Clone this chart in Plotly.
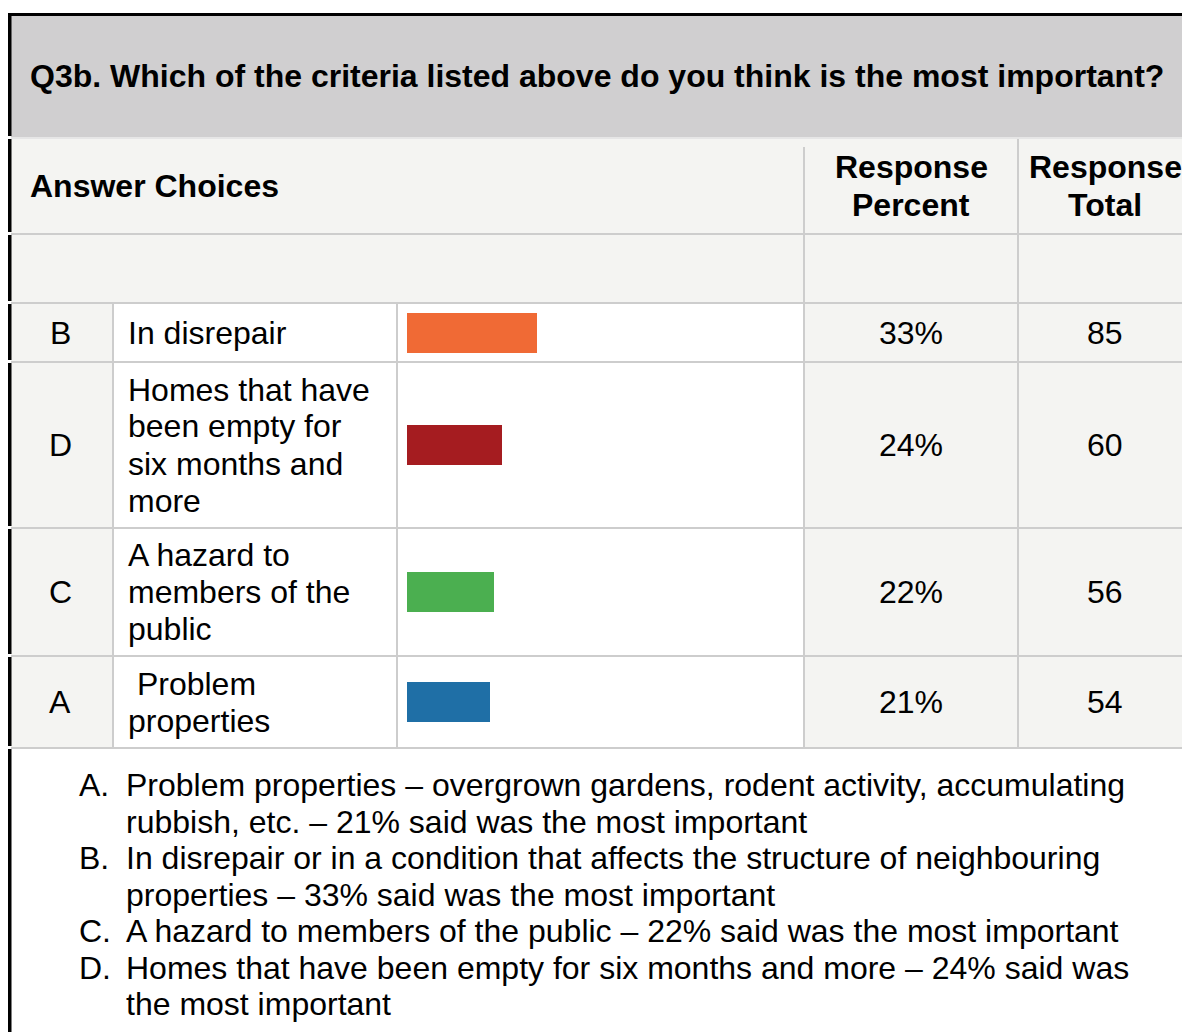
import plotly.graph_objects as go

# ---------------- data ----------------
title_text = "Q3b. Which of the criteria listed above do you think is the most important?"
header_choices = "Answer Choices"
header_percent = ["Response", "Percent"]
header_total = ["Response", "Total"]

letters = ["B", "D", "C", "A"]
choice_lines = [
    ["In disrepair"],
    ["Homes that have", "been empty for", "six months and", "more"],
    ["A hazard to", "members of the", "public"],
    ["\u00a0Problem", "properties"],
]
percents = [33, 24, 22, 21]
totals = [85, 60, 56, 54]
bar_colors = ["#F06A35", "#A51C20", "#4BAF50", "#1F6FA6"]

note_markers = ["A.", "", "B.", "", "C.", "D.", ""]
note_lines = [
    "Problem properties \u2013 overgrown gardens, rodent activity, accumulating",
    "rubbish, etc. \u2013 21% said was the most important",
    "In disrepair or in a condition that affects the structure of neighbouring",
    "properties \u2013 33% said was the most important",
    "A hazard to members of the public \u2013 22% said was the most important",
    "Homes that have been empty for six months and more \u2013 24% said was",
    "the most important",
]

# ---------------- layout geometry (pixels) ----------------
W, H = 1182, 1032
FONT = "Liberation Sans, Arial, Helvetica, sans-serif"
FS = 32
LINE = 37
GRID = "#cdcdcd"
LIGHT = "#f4f4f2"
TITLE_BG = "#d0cfd0"
PAD = 3  # annotation inner padding compensation

title_band = (16, 137)
header_band = (139, 233)
empty_band = (235, 302)
row_bands = [(304, 361), (363, 527), (529, 655), (657, 747)]

col_letter = (11, 113)
col_text = (113, 397)
col_bar = (397, 804)
col_pct = (804, 1018)
col_tot = (1018, 1192)

bar_x0 = 407
bar_px_per_100 = 394
bar_height = 40


def px(x):
    return x / W


def py(y):
    return 1 - y / H


shapes = []


def rect(x0, y0, x1, y1, color, layer="below"):
    shapes.append(dict(type="rect", xref="paper", yref="paper",
                       x0=px(x0), x1=px(x1), y0=py(y0), y1=py(y1),
                       fillcolor=color, line=dict(width=0), layer=layer))


def hline(y, x0, x1, color=GRID, w=2):
    shapes.append(dict(type="line", xref="paper", yref="paper",
                       x0=px(x0), x1=px(x1), y0=py(y), y1=py(y),
                       line=dict(color=color, width=w), layer="above"))


def vline(x, y0, y1, color=GRID, w=2):
    shapes.append(dict(type="line", xref="paper", yref="paper",
                       x0=px(x), x1=px(x), y0=py(y0), y1=py(y1),
                       line=dict(color=color, width=w), layer="above"))


annotations = []


def text(x, y, s, anchor="left", bold=False, size=FS):
    if anchor == "left":
        x = x - PAD
    annotations.append(dict(xref="paper", yref="paper", x=px(x), y=py(y),
                            text=f"<b>{s}</b>" if bold else s,
                            showarrow=False, xanchor=anchor, yanchor="middle",
                            font=dict(family=FONT, size=size, color="#000000")))


# backgrounds
rect(11, title_band[0], W + 10, title_band[1], TITLE_BG)
rect(11, header_band[0], W + 10, header_band[1], LIGHT)
rect(11, empty_band[0], W + 10, empty_band[1], LIGHT)
for (y0, y1) in row_bands:
    rect(col_letter[0], y0, col_letter[1], y1, LIGHT)
    rect(col_pct[0], y0, col_tot[1], y1, LIGHT)

# grid lines
hline(138, 11, W + 10, color="#e6e6e6")
hline(234, 11, W + 10)
hline(303, 11, W + 10)
for (y0, y1) in row_bands:
    hline(y1 + 1, 11, W + 10)
vline(col_text[0], row_bands[0][0], row_bands[-1][1])
vline(col_bar[0], row_bands[0][0], row_bands[-1][1])
vline(col_pct[0], header_band[0] + 8, row_bands[-1][1])
vline(col_tot[0], header_band[0], row_bands[-1][1])

# outer black border (top + left segments)
rect(8, 13, W + 10, 16, "#000000", layer="above")
left_segments = [(13, 136), (139, 232), (235, 301), (304, 360), (363, 526),
                 (529, 654), (657, 746), (749, H + 5)]
for (y0, y1) in left_segments:
    rect(8, y0, 11.5, y1, "#000000", layer="above")

# title + headers
text(31, (title_band[0] + title_band[1]) / 2 - 1, title_text, bold=True)
hc = (header_band[0] + header_band[1]) / 2
text(31, hc, header_choices, bold=True)
for i, s in enumerate(header_percent):
    text((col_pct[0] + col_pct[1]) / 2, hc + (i - 0.5) * LINE, s, anchor="center", bold=True)
for i, s in enumerate(header_total):
    text(1105, hc + (i - 0.5) * LINE, s, anchor="center", bold=True)

# rows
row_centers = []
for r, (y0, y1) in enumerate(row_bands):
    c = (y0 + y1) / 2
    row_centers.append(c)
    text(60, c, letters[r], anchor="center")
    n = len(choice_lines[r])
    for i, s in enumerate(choice_lines[r]):
        text(129, c + (i - (n - 1) / 2) * LINE, s)
    text((col_pct[0] + col_pct[1]) / 2, c, f"{percents[r]}%", anchor="center")
    text(1105, c, str(totals[r]), anchor="center")

# notes below the table
note_y0 = 785
note_step = 36.5
for i, (m, s) in enumerate(zip(note_markers, note_lines)):
    y = note_y0 + i * note_step
    if m:
        text(80, y, m)
    text(127, y, s)

fig = go.Figure()
fig.add_trace(go.Bar(
    x=percents, y=row_centers, orientation="h", width=bar_height,
    marker=dict(color=bar_colors, line=dict(width=0)),
    hoverinfo="skip", showlegend=False,
))

fig.update_layout(
    width=W, height=H,
    margin=dict(l=0, r=0, t=0, b=0),
    paper_bgcolor="#ffffff", plot_bgcolor="rgba(0,0,0,0)",
    xaxis=dict(domain=[px(bar_x0), px(bar_x0 + bar_px_per_100)], range=[0, 100],
               visible=False, fixedrange=True),
    yaxis=dict(domain=[0, 1], range=[H, 0], visible=False, fixedrange=True),
    shapes=shapes, annotations=annotations,
    bargap=0,
)

fig.write_html("out.html", config={"displayModeBar": False},
               post_script="document.body.style.margin='0';document.body.style.overflow='hidden';")
